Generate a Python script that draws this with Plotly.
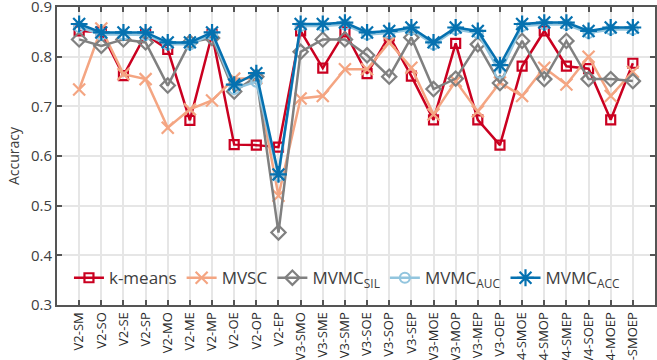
import plotly.graph_objects as go

categories = ["V2-SM", "V2-SO", "V2-SE", "V2-SP", "V2-MO", "V2-ME", "V2-MP", "V2-OE", "V2-OP", "V2-EP",
              "V3-SMO", "V3-SME", "V3-SMP", "V3-SOE", "V3-SOP", "V3-SEP", "V3-MOE", "V3-MOP", "V3-MEP", "V3-OEP",
              "V4-SMOE", "V4-SMOP", "V4-SMEP", "V4-SOEP", "V4-MOEP", "V5-SMOEP"]

kmeans = [0.852, 0.850, 0.762, 0.845, 0.815, 0.672, 0.845, 0.623, 0.622, 0.618,
          0.852, 0.777, 0.850, 0.766, 0.842, 0.761, 0.673, 0.827, 0.673, 0.622,
          0.781, 0.852, 0.781, 0.776, 0.673, 0.787]
mvsc = [0.734, 0.857, 0.765, 0.755, 0.657, 0.694, 0.712, 0.756, 0.757, 0.520,
        0.716, 0.721, 0.775, 0.775, 0.829, 0.778, 0.684, 0.751, 0.690, 0.748,
        0.721, 0.778, 0.744, 0.800, 0.721, 0.770]
mvmc_sil = [0.835, 0.822, 0.835, 0.829, 0.742, 0.829, 0.838, 0.730, 0.760, 0.446,
            0.810, 0.835, 0.835, 0.803, 0.760, 0.839, 0.735, 0.756, 0.825, 0.747,
            0.832, 0.755, 0.832, 0.755, 0.755, 0.751]
mvmc_auc = [0.860, 0.845, 0.845, 0.844, 0.825, 0.825, 0.845, 0.735, 0.750, 0.560,
            0.862, 0.862, 0.865, 0.845, 0.848, 0.855, 0.825, 0.855, 0.848, 0.768,
            0.862, 0.865, 0.865, 0.848, 0.855, 0.855]
mvmc_acc = [0.866, 0.849, 0.849, 0.849, 0.829, 0.829, 0.849, 0.744, 0.767, 0.563,
            0.866, 0.866, 0.869, 0.849, 0.852, 0.859, 0.829, 0.859, 0.852, 0.783,
            0.866, 0.869, 0.869, 0.852, 0.859, 0.859]

yticks = [0.3, 0.4, 0.5, 0.6, 0.7, 0.8, 0.9]

x = list(range(len(categories)))

series = [
    ("k-means", kmeans, "#ca0020", "square-open", 9),
    ("MVSC", mvsc, "#f4a582", "x-thin-open", 12),
    ("MVMC<sub>SIL</sub>", mvmc_sil, "#808080", "diamond-open", 11),
    ("MVMC<sub>AUC</sub>", mvmc_auc, "#92c5de", "circle-open", 10),
    ("MVMC<sub>ACC</sub>", mvmc_acc, "#0571b0", "asterisk-open", 14),
]

fig = go.Figure()
for name, ys, color, sym, size in series:
    fig.add_trace(go.Scatter(
        x=x, y=ys, name=name, mode="lines+markers",
        line=dict(color=color, width=2.5),
        marker=dict(symbol=sym, size=size, color=color, line=dict(color=color, width=2.2)),
    ))

axis_color = "#555555"
fig.update_layout(
    width=657, height=360,
    margin=dict(l=57, r=2, t=7, b=55),
    paper_bgcolor="white", plot_bgcolor="white",
    font=dict(family="Open Sans", color="#404040"),
    showlegend=True,
    legend=dict(orientation="h", x=0.02, y=0.09, xanchor="left", yanchor="middle",
                bgcolor="rgba(0,0,0,0)", font=dict(size=17, color="#404040"),
                itemwidth=30, tracegroupgap=0),
    xaxis=dict(
        range=[-1, 26], tickmode="array", tickvals=x, ticktext=categories,
        tickangle=-90, tickfont=dict(size=13, color="#2a2a2a"),
        ticklabeloverflow="allow",
        showgrid=True, gridcolor="#e6e6e6", gridwidth=1.5,
        showline=True, linecolor=axis_color, linewidth=2, mirror="ticks",
        ticks="inside", ticklen=5, tickwidth=2, tickcolor=axis_color,
        automargin=False, zeroline=False,
    ),
    yaxis=dict(
        range=[0.2999, 0.9003], tickmode="array", tickvals=yticks,
        ticktext=[f"{v:.1f}" for v in yticks], tickfont=dict(size=15, color="#404040"),
        ticklabeloverflow="allow",
        title=dict(text="Accuracy", font=dict(size=14, color="#404040"), standoff=8),
        showgrid=True, gridcolor="#e6e6e6", gridwidth=1.5,
        showline=True, linecolor=axis_color, linewidth=2, mirror="ticks",
        ticks="inside", ticklen=5, tickwidth=2, tickcolor=axis_color,
        automargin=False, zeroline=False,
    ),
)

fig.write_html("out.html")
